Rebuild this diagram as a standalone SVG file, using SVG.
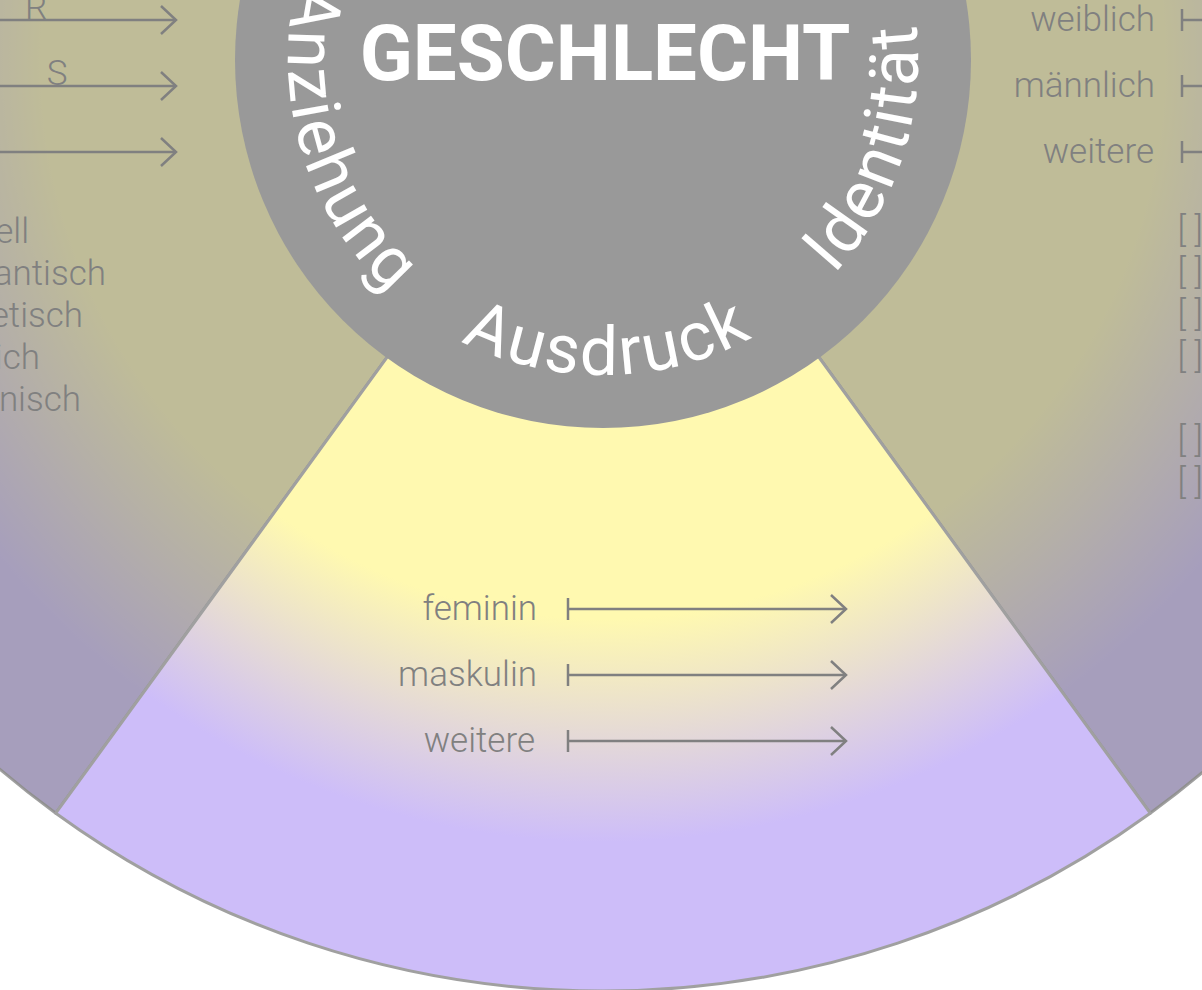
<svg xmlns="http://www.w3.org/2000/svg" width="1202" height="990" viewBox="0 0 1202 990">
<defs>
<radialGradient id="grad" gradientUnits="userSpaceOnUse" cx="603" cy="60" r="931">
<stop offset="0" stop-color="#fff9b0"/>
<stop offset="0.6" stop-color="#fff9b0"/>
<stop offset="0.84" stop-color="#cdbdf9"/>
<stop offset="1" stop-color="#cdbdf9"/>
</radialGradient>
<marker id="arr" markerUnits="userSpaceOnUse" markerWidth="40" markerHeight="40" viewBox="-20 -20 40 40" refX="0" refY="0" orient="auto" overflow="visible">
<path d="M-15,-14 L0,0 L-15,14" fill="none" stroke="#808080" stroke-width="2.5"/>
</marker>
<marker id="tick" markerUnits="userSpaceOnUse" markerWidth="10" markerHeight="30" viewBox="-5 -15 10 30" refX="0" refY="0" orient="auto" overflow="visible">
<path d="M0,-11 V11" fill="none" stroke="#808080" stroke-width="2.5"/>
</marker>
<path id="arcAus" d="M330.2,217.5 A315,315 0 0 0 875.8,217.5"/>
<path id="arcIde" d="M668.49,368.12 A315,315 0 0 0 837.09,-150.78"/>
<path id="arcAnz" d="M368.91,-150.78 A315,315 0 0 0 537.51,368.12"/>
</defs>
<style>
.sector{fill:url(#grad);stroke:#a0a0a0;stroke-width:3;stroke-linejoin:round}
.dim{fill:#808080;fill-opacity:0.5;stroke:none}
.lbl{font-family:Roboto,"Liberation Sans",sans-serif;font-weight:300;font-size:35px;fill:#808080}
.conn{fill:none;stroke:#808080;stroke-width:2.5}
.ring{font-family:Roboto,"Liberation Sans",sans-serif;font-weight:400;font-size:68px;fill:#ffffff;letter-spacing:2.5px}
.title{font-family:Roboto,"Liberation Sans",sans-serif;font-weight:700;font-size:78px;fill:#ffffff}
</style>
<rect width="1202" height="990" fill="#ffffff"/>
<g id="sector-anziehung">
<path class="sector" d="M603,60 L55.77,813.19 A931,931 0 0 1 -282.43,-227.70 Z"/>
<path class="dim" d="M603,60 L55.77,813.19 A931,931 0 0 1 -282.43,-227.70 Z"/>
</g>
<g id="sector-identitaet">
<path class="sector" d="M603,60 L1488.43,-227.70 A931,931 0 0 1 1150.23,813.19 Z"/>
<path class="dim" d="M603,60 L1488.43,-227.70 A931,931 0 0 1 1150.23,813.19 Z"/>
</g>
<g id="sector-ausdruck">
<path class="sector" d="M603,60 L1150.23,813.19 A931,931 0 0 1 55.77,813.19 Z"/>
</g>
<g id="hub">
<circle cx="603" cy="60" r="368" fill="#999999"/>
<text class="title" x="605" y="80" text-anchor="middle">GESCHLECHT</text>
<text class="ring"><textPath href="#arcAus" startOffset="50.8%" text-anchor="middle">Ausdruck</textPath></text>
<text class="ring"><textPath href="#arcIde" startOffset="50%" text-anchor="middle">Identität</textPath></text>
<text class="ring"><textPath href="#arcAnz" startOffset="49.2%" text-anchor="middle">Anziehung</textPath></text>
</g>
<g id="connectors">
<path class="conn" d="M568,609 H846" marker-start="url(#tick)" marker-end="url(#arr)"/>
<path class="conn" d="M568,675 H846" marker-start="url(#tick)" marker-end="url(#arr)"/>
<path class="conn" d="M568,741 H846" marker-start="url(#tick)" marker-end="url(#arr)"/>
<path class="conn" d="M-10,20 H176" marker-end="url(#arr)"/>
<path class="conn" d="M-10,86 H176" marker-end="url(#arr)"/>
<path class="conn" d="M-10,152 H176" marker-end="url(#arr)"/>
<path class="conn" d="M1182,20 H1212" marker-start="url(#tick)"/>
<path class="conn" d="M1182,86 H1212" marker-start="url(#tick)"/>
<path class="conn" d="M1182,152 H1212" marker-start="url(#tick)"/>
</g>
<g id="labels-ausdruck">
<text class="lbl" x="537" y="620" text-anchor="end">feminin</text>
<text class="lbl" x="537" y="686" text-anchor="end">maskulin</text>
<text class="lbl" x="535" y="752" text-anchor="end">weitere</text>
</g>
<g id="labels-identitaet">
<text class="lbl" x="1155" y="31" text-anchor="end">weiblich</text>
<text class="lbl" x="1155" y="97" text-anchor="end">männlich</text>
<text class="lbl" x="1154" y="163" text-anchor="end">weitere</text>
<text class="lbl" x="1177.5" y="242">[ ]</text>
<text class="lbl" x="1177.5" y="284">[ ]</text>
<text class="lbl" x="1177.5" y="326">[ ]</text>
<text class="lbl" x="1177.5" y="368">[ ]</text>
<text class="lbl" x="1177.5" y="452">[ ]</text>
<text class="lbl" x="1177.5" y="494">[ ]</text>
</g>
<g id="labels-anziehung">
<text class="lbl" x="36" y="19" text-anchor="middle">R</text>
<text class="lbl" x="57" y="85" text-anchor="middle">S</text>
<text class="lbl" x="29" y="243" text-anchor="end">ell</text>
<text class="lbl" x="106" y="285" text-anchor="end">antisch</text>
<text class="lbl" x="83" y="327" text-anchor="end">etisch</text>
<text class="lbl" x="40" y="369" text-anchor="end">ich</text>
<text class="lbl" x="81" y="411" text-anchor="end">nisch</text>
</g>
</svg>
